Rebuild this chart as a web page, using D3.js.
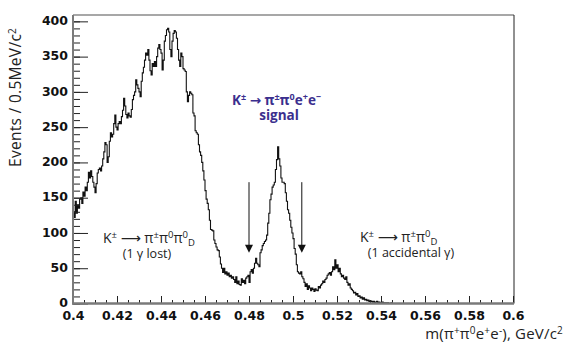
<!DOCTYPE html>
<html>

<head>
  <title>K -> pi pi0 e e mass</title>
  <style>
    body { margin: 0; background: #fff; }
    .tick text { font-family: "DejaVu Sans", sans-serif; font-weight: bold; font-size: 12.5px; fill: #111; }
    .tick line { stroke: #222; }
    .lbl { font-family: "Open Sans", "DejaVu Sans", sans-serif; fill: #222; }
  </style>
</head>

<body>
  <svg id="svg"></svg>

  <script src="https://d3js.org/d3.v7.min.js"></script>

  <script>
    // histogram: 0.5 MeV bins starting at 0.4 GeV
    let binLow = 0.4, binWidth = 0.0005;
    let counts = [
      130, 122, 145, 128, 140, 135, 148, 150, 142, 158, 152, 165, 160, 172,
      186, 178, 188, 180, 172, 165, 157, 170, 185, 190, 192,
      188, 195, 205, 215, 228, 225, 200, 208, 230,
      242, 236, 240, 255, 267, 250, 246, 255, 258,
      255, 265, 274, 291, 280, 268, 263, 270, 266, 264, 275,
      289, 295, 300, 317, 310, 305, 300, 293, 315, 327,
      335, 345, 355, 352, 360, 345, 330, 324, 340, 336, 343,
      336, 350, 362, 367, 360, 355, 331, 345, 372, 380, 388, 390,
      385, 360, 350, 372, 383, 387, 385, 376, 360, 345, 336, 355, 350,
      333, 331, 329, 300, 286, 295, 300, 298, 296, 270, 266,
      245, 242, 240, 225, 215, 210, 200, 188, 175, 160, 148, 142,
      133, 118, 105, 104, 103, 90, 85, 80, 76, 75, 66, 56, 50, 44,
      50, 42, 45, 40, 43, 38, 40, 36, 38,
      34, 30, 38, 28, 32, 27, 26, 35, 30, 33, 28, 36, 38,
      40, 30, 45, 48, 43, 50, 57, 64, 57, 55, 52, 72, 76,
      82, 85, 88, 90, 97, 114, 128, 147, 155, 165,
      168, 172, 190, 204, 222, 205, 195, 178, 172, 172, 170,
      157, 145, 133, 128, 118, 108, 100, 92, 78, 70, 55, 45,
      43, 42, 45, 38, 35, 30, 24, 28, 20, 25, 22,
      18, 22, 20, 17, 21, 19, 18, 24, 22, 26, 28, 32, 30, 34, 36,
      40, 42, 44, 40, 45, 52, 48, 62, 50, 55, 45, 50,
      42, 38, 40, 36, 34, 38, 30, 26, 28, 22, 20,
      18, 15, 16, 12, 14, 10, 11, 8, 9, 6, 8, 5, 6, 4, 5, 3, 4, 3,
      2, 3, 1, 2, 3, 1, 2, 0, 1, 2, 1, 0, 1, 0, 1, 0, 0, 1, 0
    ];

    let xTicks = [0.4, 0.42, 0.44, 0.46, 0.48, 0.5, 0.52, 0.54, 0.56, 0.58, 0.6];
    let yTicks = [0, 50, 100, 150, 200, 250, 300, 350, 400];

    // selection cut arrows (mass, top value, tip value)
    let arrows = [
      { m: 0.48, from: 172, to: 72 },
      { m: 0.504, from: 172, to: 72 }
    ];

    let width = 564, height = 343;
    let x0 = 73, x1 = 513, yBottom = 303.5, yTop = 15;

    let svg = d3.select("#svg").attr("width", width).attr("height", height);

    let xScale = d3.scaleLinear().domain([0.4, 0.6]).range([x0, x1]);
    let yScale = d3.scaleLinear().domain([0, 409]).range([yBottom, yTop]);

    // histogram outline
    let pts = counts.map((c, i) => [binLow + i * binWidth, c]);
    pts.push([binLow + counts.length * binWidth, counts[counts.length - 1]]);
    let line = d3.line()
      .x(d => xScale(d[0]))
      .y(d => yScale(d[1]))
      .curve(d3.curveStepAfter);

    svg.append("path")
      .attr("d", line(pts))
      .attr("fill", "none")
      .attr("stroke", "#111")
      .attr("stroke-width", 1.1);

    // axes
    let yMinor = svg.append("g").attr("transform", `translate(${x0},0)`)
      .call(d3.axisLeft(yScale).tickValues(d3.range(0, 410, 10)).tickSizeInner(-7).tickSizeOuter(0).tickFormat(""));
    let yMajor = svg.append("g").attr("transform", `translate(${x0},0)`)
      .call(d3.axisLeft(yScale).tickValues(yTicks).tickSizeInner(-15).tickSizeOuter(0).tickPadding(5));
    let xMinor = svg.append("g").attr("transform", `translate(0,${yBottom})`)
      .call(d3.axisBottom(xScale).tickValues(d3.range(0.4, 0.6001, 0.005)).tickSizeInner(-3.5).tickSizeOuter(0).tickFormat(""));
    let xMajor = svg.append("g").attr("transform", `translate(0,${yBottom})`)
      .call(d3.axisBottom(xScale).tickValues(xTicks).tickSizeInner(-7.5).tickSizeOuter(0).tickPadding(6)
        .tickFormat(d => String(+d.toFixed(2))));

    svg.selectAll(".domain").remove();
    yMajor.selectAll(".tick text").attr("dy", "0.26em");
    xMajor.selectAll(".tick text").attr("dy", "0.8em");

    // frame
    svg.append("line").attr("x1", x0).attr("x2", x1 + 1).attr("y1", yTop).attr("y2", yTop)
      .attr("stroke", "#8a8a8a").attr("stroke-width", 1.5);
    svg.append("line").attr("x1", x1 + 1).attr("x2", x1 + 1).attr("y1", yTop).attr("y2", yBottom)
      .attr("stroke", "#222").attr("stroke-width", 1);
    svg.append("line").attr("x1", x0).attr("x2", x0).attr("y1", yTop).attr("y2", yBottom + 1)
      .attr("stroke", "#7a7a7a").attr("stroke-width", 2);
    svg.append("line").attr("x1", x0 - 1).attr("x2", x1 + 1).attr("y1", yBottom).attr("y2", yBottom)
      .attr("stroke", "#7a7a7a").attr("stroke-width", 2.5);

    // arrows
    arrows.forEach(a => {
      let ax = xScale(a.m), ya = yScale(a.from), yb = yScale(a.to);
      svg.append("line").attr("x1", ax).attr("x2", ax).attr("y1", ya).attr("y2", yb - 6)
        .attr("stroke", "#111").attr("stroke-width", 1);
      svg.append("path")
        .attr("d", `M${ax - 4},${yb - 8} L${ax + 4},${yb - 8} L${ax},${yb} Z`)
        .attr("fill", "#111");
    });

    // text with ^superscript and _subscript pieces
    function richText(xp, yp, parts, size, small) {
      let t = svg.append("text").attr("class", "lbl").attr("x", xp).attr("y", yp).attr("font-size", size);
      let cur = 0;
      parts.forEach(p => {
        let off = 0, s = p;
        if (p[0] === "^") { off = -5; s = p.slice(1); }
        else if (p[0] === "_") { off = 3; s = p.slice(1); }
        let ts = t.append("tspan").attr("dy", off - cur).text(s);
        if (off !== 0) ts.attr("font-size", small);
        cur = off;
      });
      return t;
    }

    richText(103, 243, ["K", "^±", " \u27F6 \u03C0", "^±", "\u03C0", "^0", "\u03C0", "^0", "_D"], "14px", "9.5px");
    svg.append("text").attr("class", "lbl").attr("x", 147).attr("y", 258).attr("text-anchor", "middle")
      .attr("font-size", "12.5px").text("(1 \u03B3 lost)");

    richText(360, 242, ["K", "^±", " \u27F6 \u03C0", "^±", "\u03C0", "^0", "_D"], "14px", "9.5px");
    svg.append("text").attr("class", "lbl").attr("x", 411).attr("y", 257).attr("text-anchor", "middle")
      .attr("font-size", "12.5px").text("(1 accidental \u03B3)");

    richText(232, 105, ["K", "^±", " \u2192 \u03C0", "^±", "\u03C0", "^0", "e", "^+", "e", "^\u2212"], "13.5px", "9px")
      .attr("font-weight", "bold").style("fill", "#3b2f8e");
    svg.append("text").attr("class", "lbl").attr("x", 279).attr("y", 120).attr("text-anchor", "middle")
      .attr("font-size", "13.5px").attr("font-weight", "bold").style("fill", "#3b2f8e").text("signal");

    // axis titles
    richText(563, 339, ["m(\u03C0", "^+", "\u03C0", "^0", "e", "^+", "e", "^-", "), GeV/c", "^2"], "15px", "10px")
      .attr("text-anchor", "end").attr("letter-spacing", "0.2px");

    richText(0, 0, ["Events / 0.5MeV/c", "^2"], "15.5px", "10px")
      .attr("transform", "translate(21,167) rotate(-90)").attr("letter-spacing", "0.3px");
  </script>
</body>

</html>
